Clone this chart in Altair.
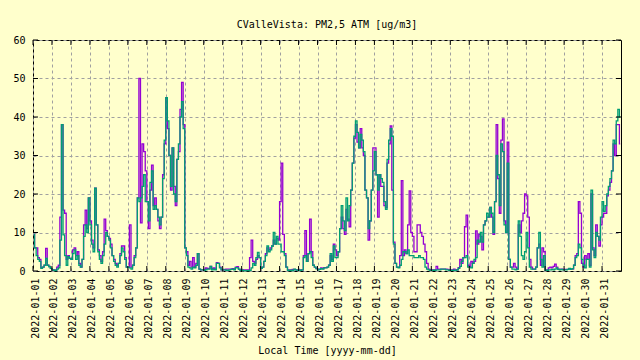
import altair as alt
import pandas as pd
import jinja2

TITLE = "CValleVista: PM2,5 ATM [ug/m3]"
X_TITLE = "Local Time [yyyy-mm-dd]"
Y_TICKS = [0, 10, 20, 30, 40, 50, 60]
TICK_DAYS = list(range(1, 32))  # 2022-01-01 .. 2022-01-31

# two-hour readings, one row of 12 per day (Jan 1 .. Jan 31)
green = [
    [9.5, 6, 4, 3, 2.5, 0.7, 1, 1.5, 3.3, 1.5, 1.1, 0.7],
    [0.3, 0.2, 0.1, 0.5, 0.8, 8, 38, 9.4, 4, 1.5, 3.7, 3.3],
    [3, 4.5, 5.5, 3, 4, 1.5, 1, 3, 9, 12, 10, 19],
    [12, 7, 5, 21.5, 12, 5, 3, 2, 4, 7, 10, 9],
    [8, 6, 4, 2.5, 1.5, 1, 2, 4, 6, 5, 3, 1],
    [1, 0.8, 0.5, 1.5, 3.5, 6, 19, 18, 19, 22, 25, 18],
    [18, 13, 23, 26, 16, 17, 16, 14, 12, 14, 24, 34],
    [45, 39, 30, 22, 32, 20, 18, 29, 33, 40, 44, 37],
    [6, 4, 1, 0.8, 0.5, 1, 0.8, 1.5, 4.5, 0.5, 0.3, 0.3],
    [0.2, 0.3, 0.5, 0.5, 1.2, 0.3, 0.5, 0.3, 2, 2, 0.8, 0.3],
    [0.3, 0.3, 0.2, 0.2, 0.3, 0.4, 0.5, 0.3, 0.9, 0.8, 0.4, 0.2],
    [0.2, 0.1, 0.1, 0.1, 0.1, 0.2, 0.8, 2, 1.5, 3.5, 4.8, 3.5],
    [0.7, 1, 2.5, 4, 6.5, 5, 5.5, 6.5, 10, 7, 9, 7],
    [7, 5, 5, 4, 1, 0.2, 0.1, 0.2, 0.1, 0.5, 0.3, 0.2],
    [0.2, 0.2, 0.3, 3.5, 4, 2.5, 4.5, 5, 3.5, 1.5, 1, 0.6],
    [0.3, 0.4, 0.6, 0.5, 0.8, 0.8, 1, 1.5, 4.5, 2.5, 6.5, 3.5],
    [3.5, 5, 11, 17, 13, 10.5, 19, 13, 17, 21, 28, 35],
    [39, 36, 32, 35.5, 34, 31, 21, 19, 11, 13, 21, 26],
    [31, 25, 21, 25, 24, 23, 18, 16, 29, 34, 37, 35],
    [7, 2, 1, 0.8, 1.5, 3, 5, 5, 4.5, 5.5, 4, 4],
    [4, 3.5, 3.5, 3.5, 4, 3.5, 3.5, 3, 1, 0.5, 0.3, 0.2],
    [0.2, 0.2, 0.2, 0.3, 0.3, 0.3, 0.5, 0.5, 0.5, 0.3, 0.3, 0.2],
    [0.2, 0.2, 0.2, 0.2, 0.3, 0.7, 1.2, 2.5, 3.5, 3.5, 4, 1],
    [1, 0.8, 2, 3, 3.5, 8, 7.5, 10, 7.5, 12, 13, 15],
    [14, 16.5, 15, 10, 18, 30, 25, 17, 33, 31, 12, 10],
    [28, 3, 1, 0.5, 0.5, 0.3, 0.5, 13, 9, 4, 3, 5],
    [10, 6, 1, 0.5, 0.5, 0.5, 1, 6, 10, 3, 1, 4],
    [0.2, 0.2, 0.3, 0.3, 0.4, 0.3, 0.5, 0.8, 0.4, 0.3, 0.4, 0.3],
    [0.3, 0.3, 0.4, 0.7, 0.4, 0.6, 1.5, 3.5, 4, 7, 6, 3],
    [1.5, 0.8, 3, 3, 1, 21, 5.5, 3.5, 10, 9, 8, 14],
    [18, 15.5, 17, 20, 22, 24, 26, 34, 33, 39, 42, 40],
]

purple = [
    [9.5, 6, 6, 3.5, 3, 0.8, 1, 1.5, 5.9, 1.5, 1.2, 0.7],
    [0.3, 0.3, 0.2, 1, 1.5, 14, 38, 15.8, 15, 3, 4, 3.3],
    [3, 5.5, 6, 4, 5, 2, 1, 3, 12, 15.8, 11, 19],
    [13, 8, 6, 21.5, 12, 5.5, 4, 2.5, 5, 13.5, 10.5, 9],
    [8.5, 7, 4, 3, 2, 1.5, 2, 4.5, 6.5, 6.5, 3.5, 1],
    [1, 12, 1, 1.5, 4, 6, 19, 50, 12.5, 33, 31, 26],
    [18, 11, 21, 27.5, 17, 19, 16, 13, 11, 14, 25, 33],
    [45, 37, 30, 21, 32, 22, 17, 29, 31, 42, 49, 38],
    [6, 5, 1.5, 2.5, 1, 3.5, 1, 2, 4.5, 0.5, 0.3, 0.3],
    [0.3, 0.8, 0.7, 0.6, 1.2, 0.6, 0.8, 0.5, 2.2, 2, 1, 0.3],
    [0.3, 0.4, 0.5, 0.5, 0.5, 0.5, 0.6, 0.5, 1, 1.1, 0.5, 0.3],
    [0.2, 0.3, 0.3, 0.3, 0.3, 3.5, 8, 2.5, 2, 3, 4, 3.5],
    [0.7, 1, 2.5, 4.5, 6, 5.5, 6, 6.5, 8, 7, 8.5, 8],
    [18, 28, 9.5, 4.5, 1, 0.3, 0.3, 0.3, 0.4, 0.4, 0.3, 0.3],
    [0.3, 0.3, 0.3, 4, 10.5, 2.5, 4.5, 13.5, 5, 1.5, 1, 0.6],
    [0.4, 0.5, 0.8, 0.6, 0.9, 0.9, 1, 1.5, 4, 3, 7, 5.5],
    [4, 5, 11, 14, 11, 9.5, 16, 13.5, 11.5, 21, 28, 34.5],
    [38, 33.5, 32, 37, 32, 30, 21, 19, 8, 13, 21, 32],
    [32, 25, 14, 25, 22, 22, 17, 16.5, 28, 33, 37.7, 21],
    [7.5, 2, 1, 1, 4, 23.5, 4, 5.5, 4.5, 12, 20.8, 10],
    [9, 5, 5, 12, 12, 10, 9, 7, 5, 2, 0.5, 0.3],
    [0.3, 0.3, 0.3, 1.2, 0.5, 0.5, 0.5, 0.5, 0.5, 0.5, 0.4, 0.3],
    [0.3, 0.3, 0.5, 0.3, 0.3, 0.9, 3, 2, 3.5, 11.5, 14.5, 1.5],
    [1.2, 2.5, 2, 2.5, 10.4, 7, 9.5, 9, 5.5, 12, 13, 14],
    [14, 16.5, 14, 9.5, 18, 38, 24, 15, 34, 39.5, 13, 10],
    [33.5, 3, 1, 1, 2, 1, 0.5, 12, 10, 13, 15, 20],
    [19.5, 14, 3, 1, 0.5, 0.5, 1, 6, 7, 1.5, 6, 5],
    [0.3, 0.3, 0.8, 1, 0.8, 1.2, 1.8, 1, 0.5, 0.4, 0.5, 0.4],
    [0.4, 0.4, 0.4, 0.6, 0.5, 0.5, 1.5, 4, 4.5, 18, 15, 2],
    [1, 4, 3, 4.5, 1.5, 20, 6, 4, 12, 9, 6.5, 12],
    [14, 15, 15, 19.5, 21, 23, 26, 33, 30, 38, 38, 33],
]

GREEN_COLOR = "#009E73"
PURPLE_COLOR = "#9400D3"
BG = "#ffffcc"
FONT = "DejaVu Sans Mono"
W, H = 588, 231

g_vals = [v for day in green for v in day]
p_vals = [v for day in purple for v in day]
times = pd.date_range("2022-01-01 01:00", periods=len(g_vals), freq="2h")
df = pd.DataFrame({"t": times, "green": g_vals, "purple": p_vals})

ticks_y = pd.DataFrame({"v": Y_TICKS})
ticks_x = pd.DataFrame({"d": pd.to_datetime([f"2022-01-{d:02d}" for d in TICK_DAYS])})

x_scale = alt.Scale(domain=[alt.DateTime(year=2022, month=1, date=1),
                            alt.DateTime(year=2022, month=2, date=1)])
y_scale = alt.Scale(domain=[0, 60], nice=False)

x_axis = alt.Axis(
    values=[alt.DateTime(year=2022, month=1, date=d) for d in TICK_DAYS],
    format="%Y-%m-%d", labelAngle=270, labelAlign="right", labelBaseline="middle",
    labelPadding=7, labelOffset=2, labelOverlap=False, labelFlush=False,
    grid=True, ticks=False, tickSize=0, domain=False,
    title=X_TITLE, titleY=82, titleBaseline="alphabetic", titleFontWeight="normal",
)
y_axis = alt.Axis(
    values=Y_TICKS, grid=True, ticks=False, tickSize=0, domain=False,
    labelPadding=8, title=None,
)

line_p = alt.Chart(df).mark_line(color=PURPLE_COLOR, strokeWidth=1.3, interpolate="step").encode(
    x=alt.X("t:T", scale=x_scale, axis=x_axis),
    y=alt.Y("purple:Q", scale=y_scale, axis=y_axis),
)
line_g = alt.Chart(df).mark_line(color=GREEN_COLOR, strokeWidth=1.3, interpolate="step").encode(
    x=alt.X("t:T", scale=x_scale, axis=x_axis),
    y=alt.Y("green:Q", scale=y_scale, axis=y_axis),
)

tick_l = alt.Chart(ticks_y).mark_rule(color="black", strokeWidth=1).encode(
    y=alt.Y("v:Q", scale=y_scale, axis=y_axis), x=alt.value(0), x2=alt.value(5))
tick_r = alt.Chart(ticks_y).mark_rule(color="black", strokeWidth=1).encode(
    y=alt.Y("v:Q", scale=y_scale, axis=y_axis), x=alt.value(W - 5), x2=alt.value(W))
tick_b = alt.Chart(ticks_x).mark_rule(color="black", strokeWidth=1).encode(
    x=alt.X("d:T", scale=x_scale, axis=x_axis), y=alt.value(H - 5), y2=alt.value(H))
tick_t = alt.Chart(ticks_x).mark_rule(color="black", strokeWidth=1).encode(
    x=alt.X("d:T", scale=x_scale, axis=x_axis), y=alt.value(0), y2=alt.value(5))

chart = alt.layer(line_p, line_g, tick_l, tick_r, tick_b, tick_t).properties(
    width=W, height=H,
    autosize=alt.AutoSizeParams(type="none"),
    padding={"left": 25, "top": 32, "right": 11, "bottom": 88},
    title=alt.TitleParams(text=TITLE, font=FONT, fontSize=10, fontWeight="normal",
                          color="black", anchor="middle", offset=2, dy=5,
                          baseline="alphabetic"),
).configure(
    background=BG,
).configure_view(
    stroke="black", strokeWidth=1,
).configure_axis(
    labelFont=FONT, labelFontSize=10, labelColor="black",
    titleFont=FONT, titleFontSize=10, titleColor="black",
    gridColor="#a0a0a0", gridDash=[3, 3], gridWidth=1, gridOpacity=1,
)

TEMPLATE = jinja2.Template("""<!DOCTYPE html>
<html>
<head>
<style>html, body { background: #ffffcc; }</style>
<script type="text/javascript" src="{{ base_url }}/vega@{{ vega_version }}"></script>
<script type="text/javascript" src="{{ base_url }}/vega-lite@{{ vegalite_version }}"></script>
<script type="text/javascript" src="{{ base_url }}/vega-embed@{{ vegaembed_version }}"></script>
</head>
<body>
<div id="{{ output_div }}"></div>
<script type="text/javascript">
  vegaEmbed("#{{ output_div }}", {{ spec }}, {{ embed_options }}).catch(console.error);
</script>
</body>
</html>""")

chart.save("out.html", embed_options={"renderer": "svg", "actions": False}, template=TEMPLATE)
